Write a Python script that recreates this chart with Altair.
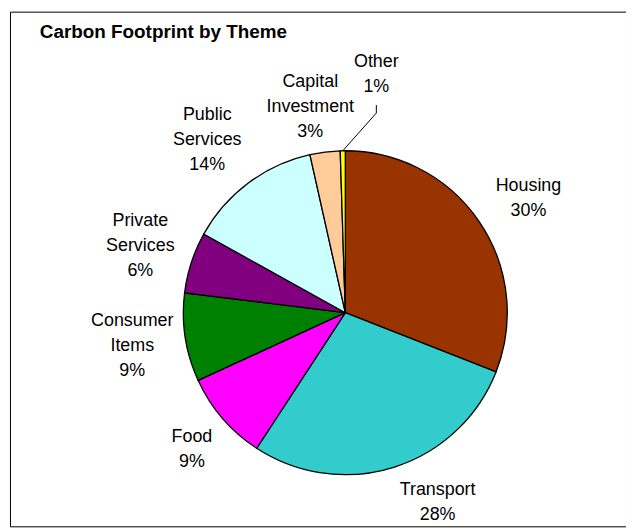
import altair as alt
import pandas as pd

# ---- data ----
categories = ["Housing", "Transport", "Food", "Consumer Items", "Private Services",
              "Public Services", "Capital Investment", "Other"]
values = [30.9, 28.2, 8.9, 8.8, 6.1, 13.4, 3.0, 0.5]
pct_labels = ["30%", "28%", "9%", "9%", "6%", "14%", "3%", "1%"]
colors = ["#993300", "#33CCCC", "#FF00FF", "#008000", "#800080",
          "#CCFFFF", "#FFCC99", "#FFFF00"]

# ---- layout constants (view coordinates) ----
ORIGIN = 10
CX, CY = 347.5 - ORIGIN, 313 - ORIGIN
R = 163
R_LABEL = 217
LINE_H = 25
W, H = 620, 518
FONT = "Liberation Sans"
# small label nudges (px), mimicking Excel's best-fit label placement
LABEL_NUDGE = {
    "Housing": (5, 7),
    "Transport": (27, -16),
    "Food": (10, -4),
    "Public Services": (-9, 0),
    "Capital Investment": (-8, 8),
}

labels = [c.replace(" ", "\n") + "\n" + p for c, p in zip(categories, pct_labels)]
df = pd.DataFrame({
    "cat": categories,
    "value": values,
    "order": list(range(len(categories))),
    "label": labels,
    "lines": [len(t.split("\n")) for t in labels],
    "nx": [LABEL_NUDGE.get(c, (0, 0))[0] for c in categories],
    "ny": [LABEL_NUDGE.get(c, (0, 0))[1] for c in categories],
})

base = (
    alt.Chart(df)
    .transform_window(cum="sum(value)", sort=[alt.SortField("order")])
    .transform_joinaggregate(total="sum(value)")
    .transform_calculate(mid="(datum.cum - datum.value/2) / datum.total * 2 * PI")
)

pie = alt.Chart(df).mark_arc(outerRadius=R, stroke="black", strokeWidth=1.3).encode(
    theta=alt.Theta("value:Q", stack=True),
    order=alt.Order("order:O"),
    color=alt.Color("cat:N", scale=alt.Scale(domain=categories, range=colors), legend=None),
    x=alt.value(CX),
    y=alt.value(CY),
)

text_style = dict(font=FONT, fontSize=18, lineHeight=LINE_H, lineBreak="\n",
                  align="center", baseline="middle", color="black")

# block centre on the slice's mid-angle; first line shifted up so the block is centred
labels_main = base.transform_filter("datum.cat != 'Other'").transform_calculate(
    lx=f"{CX} + {R_LABEL} * sin(datum.mid) + datum.nx",
    ly=f"{CY} - {R_LABEL} * cos(datum.mid) - (datum.lines - 1) * {LINE_H / 2} + datum.ny",
).mark_text(**text_style).encode(
    x=alt.X("lx:Q", scale=None), y=alt.Y("ly:Q", scale=None), text="label:N"
)

other = base.transform_filter("datum.cat == 'Other'").transform_calculate(
    lx=f"{CX} + 240 * sin(datum.mid) + 35",
    cy_=f"{CY} - 240 * cos(datum.mid)",
    ex=f"{CX} + {R} * sin(datum.mid)",
    ey=f"{CY} - {R} * cos(datum.mid)",
).transform_calculate(
    ly=f"datum.cy_ - (datum.lines - 1) * {LINE_H / 2}",
    t1="datum.cy_ + 31",
    t2="datum.cy_ + 39",
)

labels_other = other.mark_text(**text_style).encode(
    x=alt.X("lx:Q", scale=None), y=alt.Y("ly:Q", scale=None), text="label:N"
)

tick = other.mark_rule(color="black", strokeWidth=1).encode(
    x=alt.X("lx:Q", scale=None), x2="lx:Q",
    y=alt.Y("t1:Q", scale=None), y2="t2:Q",
)

leader = other.mark_rule(color="black", strokeWidth=1).encode(
    x=alt.X("lx:Q", scale=None), x2="ex:Q",
    y=alt.Y("t2:Q", scale=None), y2="ey:Q",
)

chart = (
    alt.layer(pie, labels_main, labels_other, tick, leader)
    .properties(
        width=W,
        height=H,
        autosize=alt.AutoSizeParams(type="none"),
        padding={"left": 2, "top": 2, "right": 0, "bottom": 0},
        background="white",
        title=alt.TitleParams(
            "Carbon Footprint by Theme",
            anchor="start", frame="group", offset=-31, dx=30,
            font=FONT, fontSize=19, fontWeight="bold", color="black",
        ),
    )
    .configure_view(stroke="black", strokeWidth=1)
)

chart.save("out.html", embed_options={"renderer": "svg", "actions": False})
